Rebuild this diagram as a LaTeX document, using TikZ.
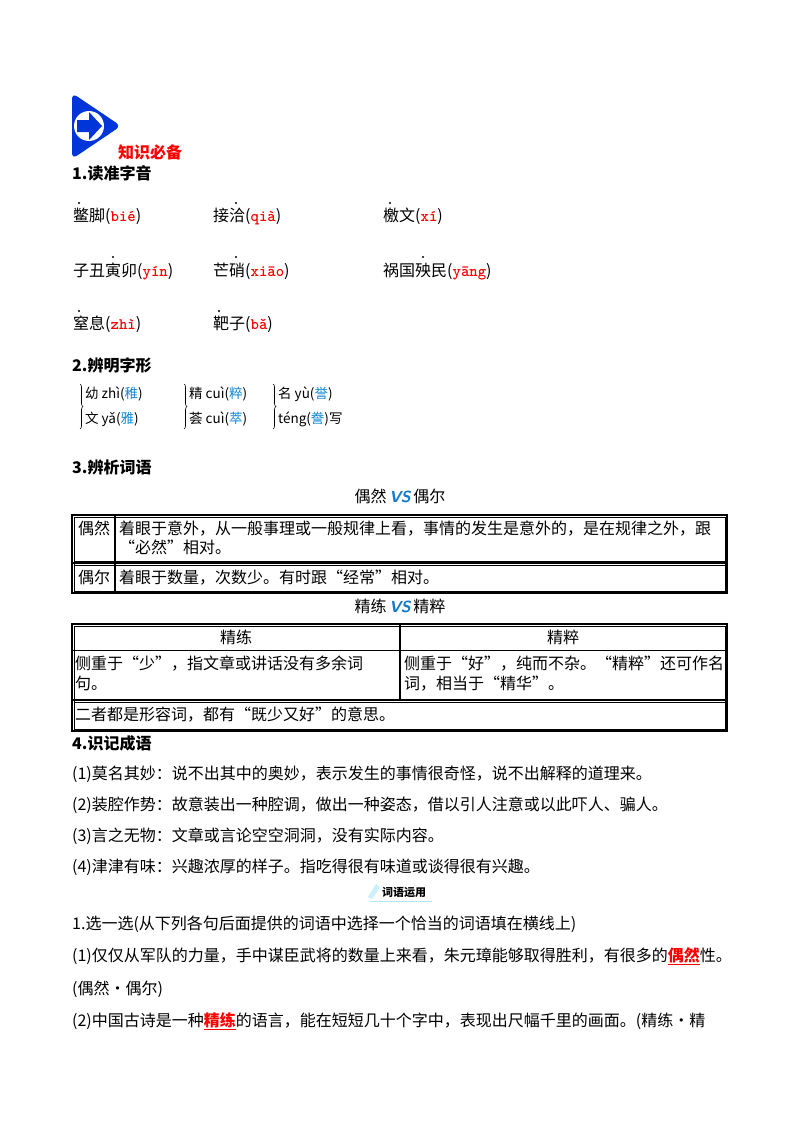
\documentclass[tikz,border=0pt]{standalone}
\usepackage{fontspec}
\usetikzlibrary{decorations.pathreplacing}
\setmainfont{Liberation Serif}
\newfontfamily\cjk{Noto Sans CJK SC}
\begin{document}
\begin{tikzpicture}[x=1pt,y=-1pt,
  t/.style={anchor=base west,inner sep=0,font=\cjk\fontsize{16}{18}\selectfont},
  h/.style={t,font=\cjk\bfseries\fontsize{16}{18}\selectfont},
  s/.style={t,font=\cjk\fontsize{13.5}{15}\selectfont},
  brc/.style={decorate,decoration={brace,amplitude=3pt},line width=0.6},
  dt/.style={circle,fill=black,inner sep=0,minimum size=2.2pt}]
\useasboundingbox (0,0) rectangle (800,1132);
\fill[white] (0,0) rectangle (800,1132);
% icon
\fill[blue!75!cyan!85!black,rounded corners=6] (72,93) -- (121,126) -- (72,159) -- cycle;
\fill[white] (89,126) circle (15);
\fill[blue!75!cyan!85!black] (77,120) -- (89,120) -- (89,112) -- (102,126) -- (89,140) -- (89,132) -- (77,132) -- cycle;
\node[h,text=red] (k) at (118,158) {知识必备};
\node[h] (s1) at (72,179) {1.读准字音};
% row 1
\node[t] (a1) at (73,221) {鳖脚(\textcolor{red}{\ttfamily\bfseries bié})};
\node[dt] at (79,203) {};
\node[t] (a2) at (213,221) {接洽(\textcolor{red}{\ttfamily\bfseries qià})};
\node[dt] at (236,203) {};
\node[t] (a3) at (383,221) {檄文(\textcolor{red}{\ttfamily\bfseries xí})};
\node[dt] at (390,203) {};
\node[t] (b1) at (73,276) {子丑寅卯(\textcolor{red}{\ttfamily\bfseries yín})};
\node[dt] at (113,257) {};
\node[t] (b2) at (213,276) {芒硝(\textcolor{red}{\ttfamily\bfseries xiāo})};
\node[dt] at (236,257) {};
\node[t] (b3) at (383,276) {祸国殃民(\textcolor{red}{\ttfamily\bfseries yāng})};
\node[dt] at (423,257) {};
\node[t] (c1) at (73,329) {窒息(\textcolor{red}{\ttfamily\bfseries zhì})};
\node[dt] at (79,311) {};
\node[t] (c2) at (213,329) {靶子(\textcolor{red}{\ttfamily\bfseries bǎ})};
\node[dt] at (219,311) {};
\node[h] (s2) at (72,371) {2.辨明字形};
\draw[brc] (80,384) -- (80,429);
\draw[brc] (184,384) -- (184,429);
\draw[brc] (273,384) -- (273,429);
\node[s] (d1) at (85,398) {幼 zhì(\textcolor{cyan!70!blue}{稚})};
\node[s] (d2) at (85,423) {文 yǎ(\textcolor{cyan!70!blue}{雅})};
\node[s] (d3) at (189,398) {精 cuì(\textcolor{cyan!70!blue}{粹})};
\node[s] (d4) at (189,423) {荟 cuì(\textcolor{cyan!70!blue}{萃})};
\node[s] (d5) at (278,398) {名 yù(\textcolor{cyan!70!blue}{誉})};
\node[s] (d6) at (278,423) {téng(\textcolor{cyan!70!blue}{誊})写};
\node[h] (s3) at (72,473) {3.辨析词语};
\node[t,anchor=base] (v1) at (400,502) {偶然\,\textcolor{cyan!60!blue}{\sffamily\bfseries\itshape VS}\,偶尔};
% table 1
\draw[line width=1.6] (72,515) rectangle (727,593);
\draw[line width=0.6] (74,517) rectangle (725,591);
\draw[line width=1.6] (72,563) -- (727,563);
\draw[line width=0.6] (74,565) -- (725,565);
\draw[line width=0.6] (74,561) -- (725,561);
\draw[line width=1.2] (115,515) -- (115,593);
\node[t] (p1) at (78,534) {偶然};
\node[t] (p2) at (119,534) {着眼于意外，从一般事理或一般规律上看，事情的发生是意外的，是在规律之外，跟};
\node[t] (p3) at (119,553) {“必然”相对。};
\node[t] (p4) at (78,583) {偶尔};
\node[t] (p5) at (119,583) {着眼于数量，次数少。有时跟“经常”相对。};
\node[t,anchor=base] (v2) at (400,612) {精练\,\textcolor{cyan!60!blue}{\sffamily\bfseries\itshape VS}\,精粹};
% table 2
\draw[line width=1.6] (72,624) rectangle (727,731);
\draw[line width=0.6] (74,626) rectangle (725,729);
\draw[line width=1] (72,650) -- (727,650);
\draw[line width=1.6] (72,700) -- (727,700);
\draw[line width=0.6] (74,702) -- (725,702);
\draw[line width=1.2] (400,624) -- (400,700);
\node[t,anchor=base] (q1) at (236,643) {精练};
\node[t,anchor=base] (q2) at (563,643) {精粹};
\node[t] (q3) at (75,669) {侧重于“少”，指文章或讲话没有多余词};
\node[t] (q4) at (75,689) {句。};
\node[t] (q5) at (404,669) {侧重于“好”，纯而不杂。“精粹”还可作名};
\node[t] (q6) at (404,689) {词，相当于“精华”。};
\node[t] (q7) at (75,720) {二者都是形容词，都有“既少又好”的意思。};
\node[h] (s4) at (72,749) {4.识记成语};
\node[t] (e1) at (72,779) {(1)莫名其妙：说不出其中的奥妙，表示发生的事情很奇怪，说不出解释的道理来。};
\node[t] (e2) at (72,810) {(2)装腔作势：故意装出一种腔调，做出一种姿态，借以引人注意或以此吓人、骗人。};
\node[t] (e3) at (72,841) {(3)言之无物：文章或言论空空洞洞，没有实际内容。};
\node[t] (e4) at (72,872) {(4)津津有味：兴趣浓厚的样子。指吃得很有味道或谈得很有兴趣。};
\fill[cyan!20] (368,897) -- (376,884) -- (380,887) -- (372,899) -- cycle;
\node[t,font=\cjk\bfseries\fontsize{11}{12}\selectfont] (w) at (382,896) {词语运用};
\draw[cyan!30] (370,901) -- (432,901);
\node[t] (f1) at (72,929) {1.选一选(从下列各句后面提供的词语中选择一个恰当的词语填在横线上)};
\node[t] (f2) at (72,961) {(1)仅仅从军队的力量，手中谋臣武将的数量上来看，朱元璋能够取得胜利，有很多的\textcolor{red}{\bfseries\underline{偶然}}性。};
\node[t] (f3) at (72,994) {(偶然·偶尔)};
\node[t] (f4) at (72,1026) {(2)中国古诗是一种\textcolor{red}{\bfseries\underline{精练}}的语言，能在短短几十个字中，表现出尺幅千里的画面。(精练·精};
\end{tikzpicture}
\end{document}
